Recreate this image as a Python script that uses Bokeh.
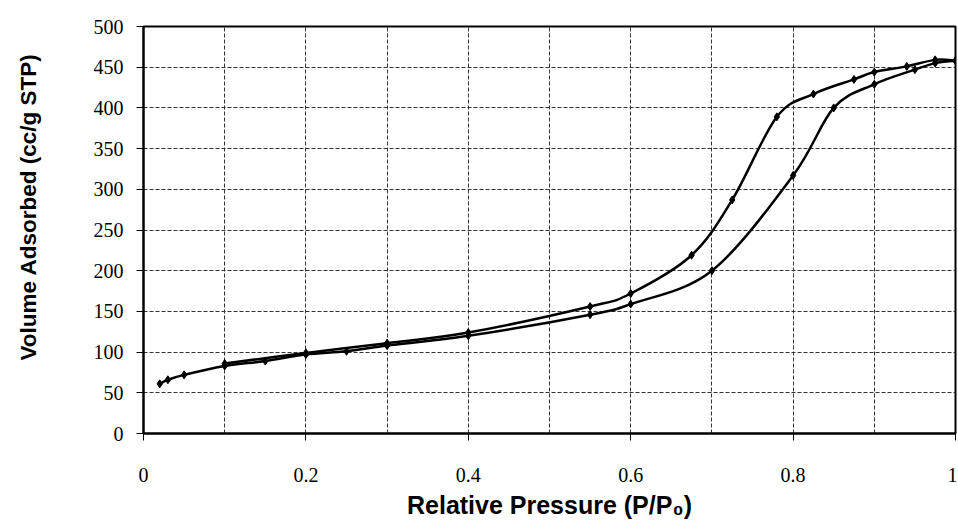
from bokeh.plotting import figure
from bokeh.models import Range1d, FixedTicker, Title, ColumnDataSource
from bokeh.embed import file_html
from bokeh.resources import INLINE

# Adsorption branch (lower curve in hysteresis loop)
ads_x = [0.02, 0.03, 0.05, 0.10, 0.15, 0.20, 0.25, 0.30, 0.40, 0.55, 0.60, 0.70, 0.80, 0.85, 0.90, 0.95, 0.975, 1.00]
ads_y = [61, 66, 72, 83, 89, 97, 101, 108, 120, 146, 159, 200, 317, 400, 429, 447, 455, 458]

# Desorption branch (upper curve in hysteresis loop)
des_x = [1.00, 0.975, 0.94, 0.90, 0.875, 0.825, 0.78, 0.725, 0.675, 0.60, 0.55, 0.40, 0.30, 0.20, 0.10]
des_y = [458, 459, 451, 444, 435, 417, 389, 287, 219, 172, 156, 124, 111, 99, 86]

x_ticks = [0.0, 0.2, 0.4, 0.6, 0.8, 1.0]
x_tick_labels = ["0", "0.2", "0.4", "0.6", "0.8", "1"]
x_grid_ticks = [0.0, 0.1, 0.2, 0.3, 0.4, 0.5, 0.6, 0.7, 0.8, 0.9, 1.0]
y_ticks = [0, 50, 100, 150, 200, 250, 300, 350, 400, 450, 500]

x_title = "Relative Pressure (P/P\u2080)"
y_title = "Volume Adsorbed (cc/g STP)"


def smooth_segments(xs, ys):
    """Cubic Bezier segments (Catmull-Rom style smoothing, like a spreadsheet's smoothed line)."""
    n = len(xs)
    d = dict(x0=[], y0=[], x1=[], y1=[], cx0=[], cy0=[], cx1=[], cy1=[])
    for i in range(n - 1):
        ip = i - 1 if i > 0 else i
        i2 = i + 2 if i + 2 < n else i + 1
        d["x0"].append(xs[i]); d["y0"].append(ys[i])
        d["x1"].append(xs[i + 1]); d["y1"].append(ys[i + 1])
        d["cx0"].append(xs[i] + (xs[i + 1] - xs[ip]) / 6.0)
        d["cy0"].append(ys[i] + (ys[i + 1] - ys[ip]) / 6.0)
        d["cx1"].append(xs[i + 1] - (xs[i2] - xs[i]) / 6.0)
        d["cy1"].append(ys[i + 1] - (ys[i2] - ys[i]) / 6.0)
    return ColumnDataSource(d)


p = figure(width=957, height=521,
           x_range=Range1d(0, 1), y_range=Range1d(0, 500),
           output_backend="svg", toolbar_location=None,
           min_border_left=143, min_border_right=2,
           min_border_top=26, min_border_bottom=85)

p.background_fill_color = "white"
p.border_fill_color = "white"
p.outline_line_color = "black"
p.outline_line_width = 2

# grid
p.xgrid.ticker = FixedTicker(ticks=x_grid_ticks)
p.ygrid.ticker = FixedTicker(ticks=y_ticks)
for g in (p.xgrid, p.ygrid):
    g.grid_line_color = "#333333"
    g.grid_line_width = 1
    g.grid_line_dash = "4 2"

# axes
p.xaxis.ticker = FixedTicker(ticks=x_ticks)
p.xaxis.major_label_overrides = dict(zip(x_ticks, x_tick_labels))
p.yaxis.ticker = FixedTicker(ticks=y_ticks)
for ax in (p.xaxis, p.yaxis):
    ax.axis_line_color = "black"
    ax.axis_line_width = 2
    ax.major_tick_line_color = "black"
    ax.major_tick_line_width = 1
    ax.major_tick_out = 7
    ax.major_tick_in = 0
    ax.minor_tick_out = 0
    ax.minor_tick_in = 0
    ax.major_label_text_font = "Liberation Serif"
    ax.major_label_text_font_size = "20px"
    ax.major_label_text_color = "black"
p.xaxis.major_label_standoff = 27
p.yaxis.major_label_standoff = 13

p.xaxis.axis_label = x_title
p.xaxis.axis_label_text_font = "Liberation Sans"
p.xaxis.axis_label_text_font_style = "bold"
p.xaxis.axis_label_text_font_size = "25px"
p.xaxis.axis_label_text_color = "black"
p.xaxis.axis_label_standoff = 6

# blank y-axis label only reserves room so the title sits further left
p.yaxis.axis_label = " "
p.yaxis.axis_label_text_font_size = "23px"
p.yaxis.axis_label_standoff = 21

ytitle = Title(text=y_title, align="left", offset=73, standoff=0,
               text_font="Liberation Sans", text_font_style="bold",
               text_font_size="22.5px", text_color="black")
p.add_layout(ytitle, "left")

# curves
for xs, ys in ((ads_x, ads_y), (des_x, des_y)):
    src = smooth_segments(xs, ys)
    p.bezier(x0="x0", y0="y0", x1="x1", y1="y1", cx0="cx0", cy0="cy0",
             cx1="cx1", cy1="cy1", source=src, line_color="black", line_width=2.5)
    p.scatter(xs, ys, marker="diamond", size=8, fill_color="black", line_color="black")

open("out.html", "w").write(file_html(p, INLINE))
